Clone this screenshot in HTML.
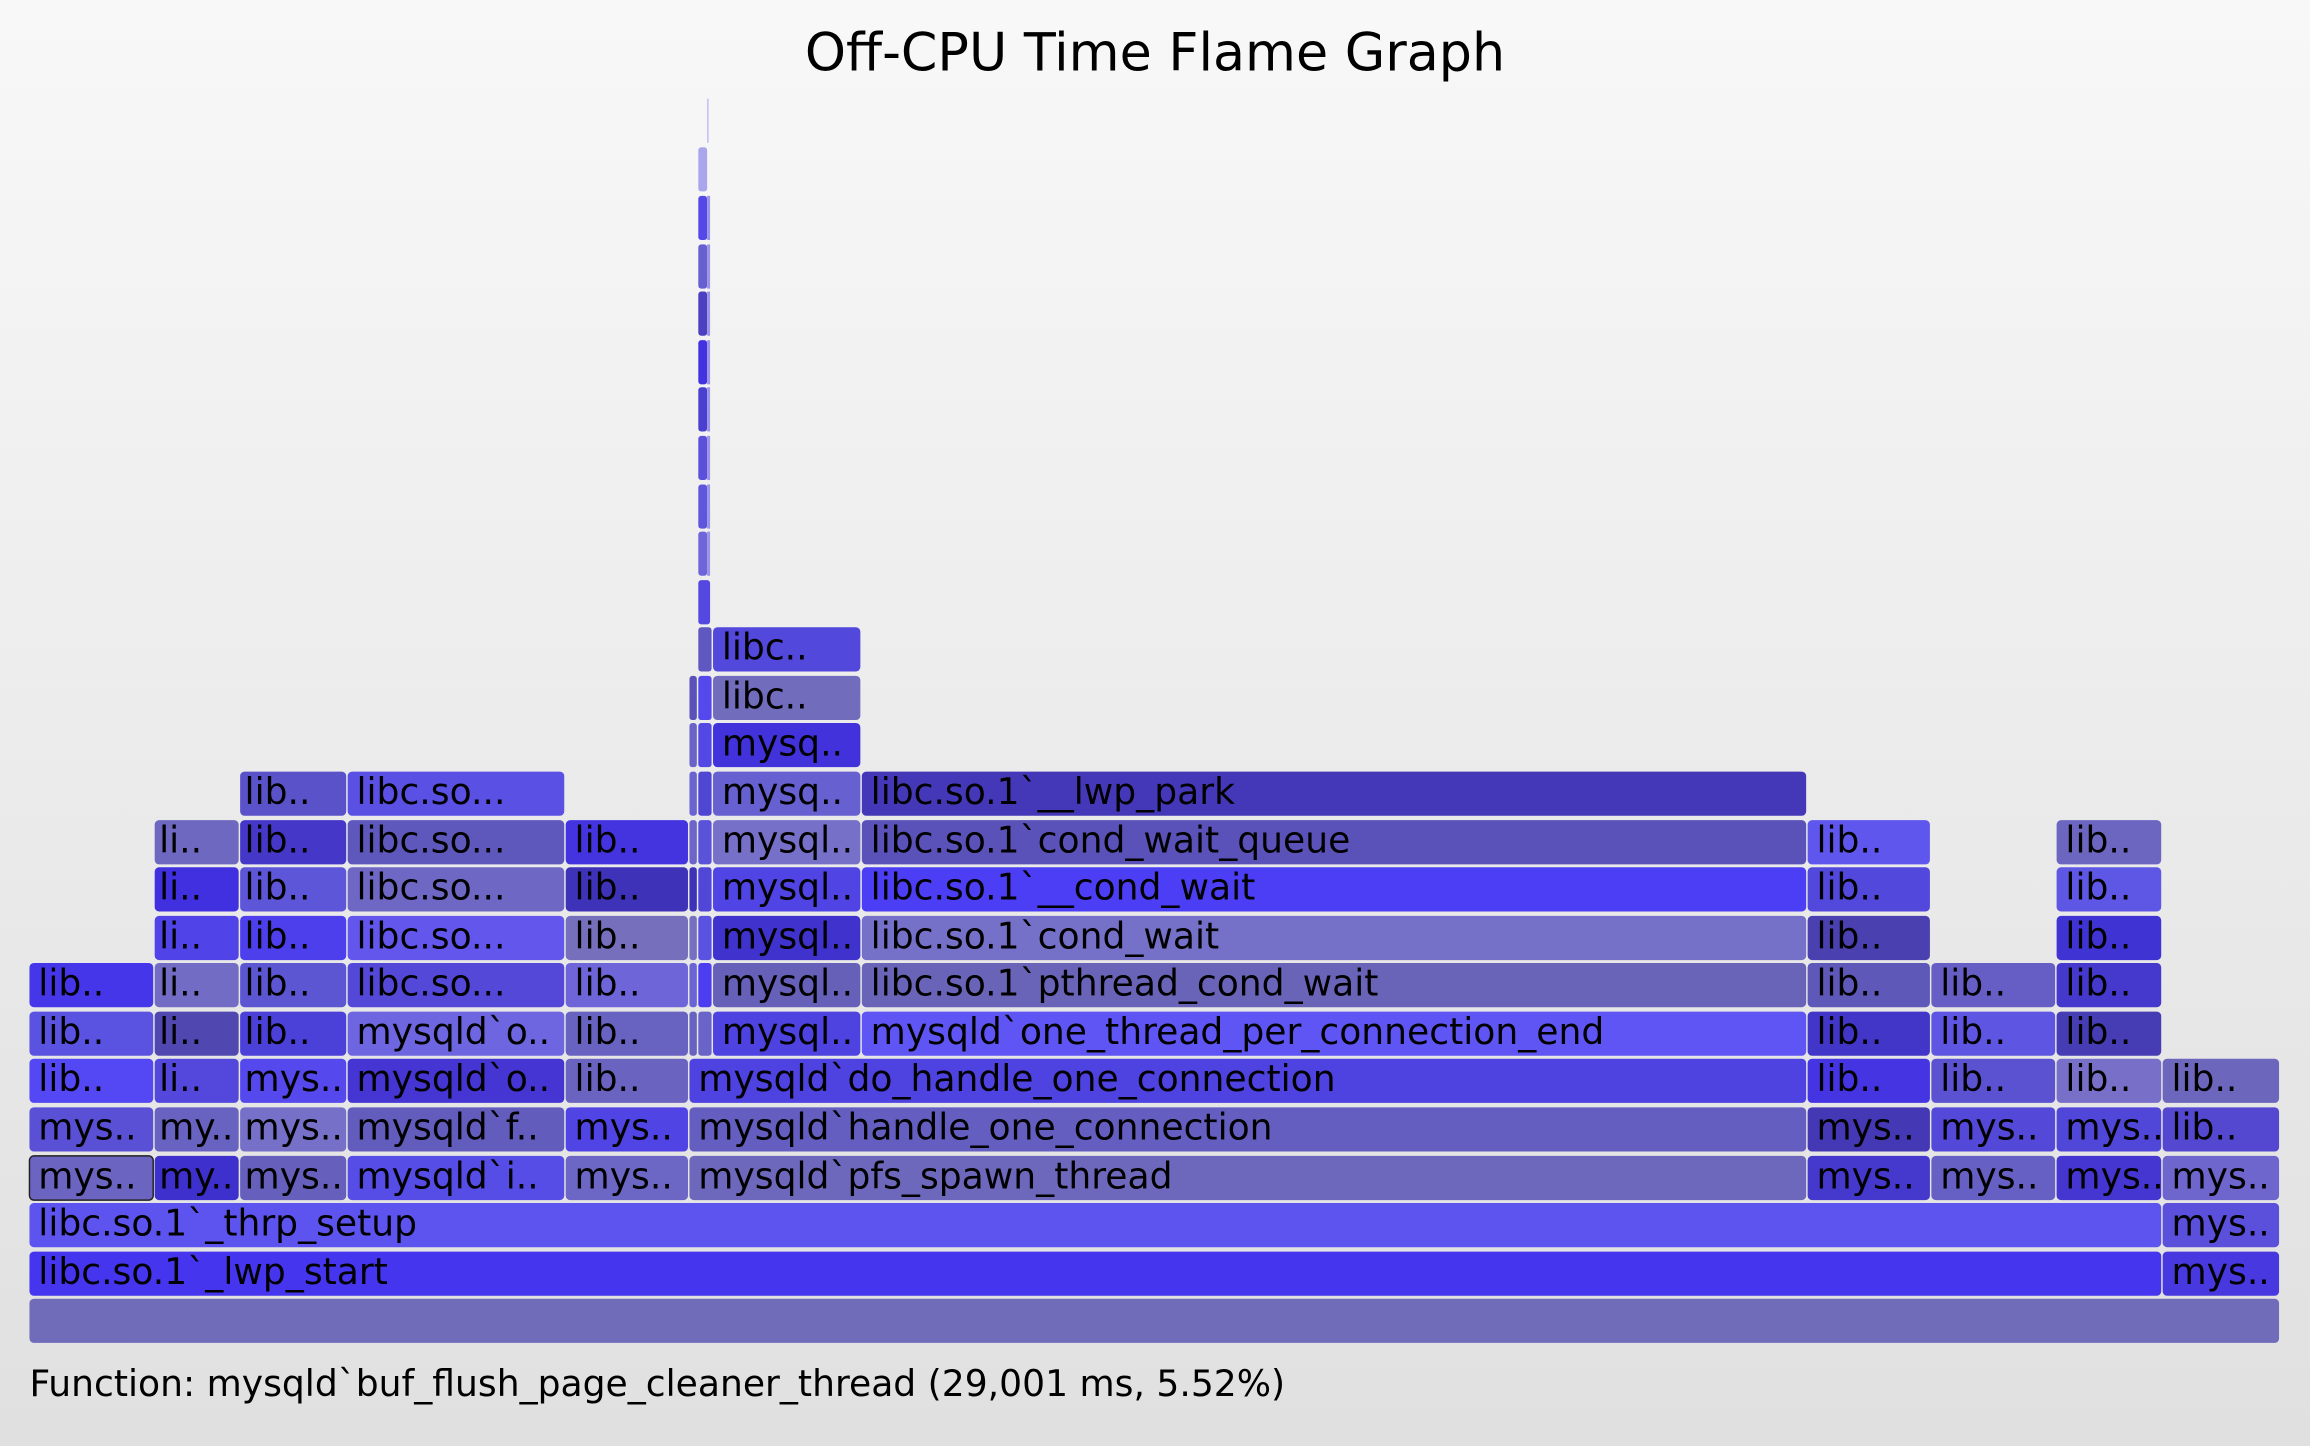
<!DOCTYPE html>
<html><head><meta charset="utf-8"><style>
html,body{margin:0;padding:0;width:2310px;height:1446px;overflow:hidden}
svg{display:block}
text{font-family:"DejaVu Sans","Liberation Sans",sans-serif;font-size:24.5px;fill:#000}
</style></head><body>
<svg width="2310" height="1446" viewBox="0 0 1568 982" preserveAspectRatio="none" xmlns="http://www.w3.org/2000/svg">
<defs><linearGradient id="bg" x1="0" y1="0" x2="0" y2="1"><stop offset="0" stop-color="#f8f8f8"/><stop offset="1" stop-color="#e0e0e0"/></linearGradient></defs>
<rect x="0" y="0" width="1568" height="982" fill="url(#bg)"/>
<text x="784" y="48" text-anchor="middle" style="font-size:35.5px">Off-CPU Time Flame Graph</text>
<g stroke="none">
<!-- row0 -->
<rect x="20" y="882" width="1527" height="30" rx="3" fill="#716cba"/>
<!-- row1 -->
<rect x="20" y="850" width="1447" height="30" rx="3" fill="#4535ee"/><text x="26" y="872">libc.so.1`_lwp_start</text>
<rect x="1468" y="850" width="79" height="30" rx="3" fill="#4838e0"/><text x="1474" y="872">mys..</text>
<!-- row2 -->
<rect x="20" y="817" width="1447" height="30" rx="3" fill="#5d54f0"/><text x="26" y="839">libc.so.1`_thrp_setup</text>
<rect x="1468" y="817" width="79" height="30" rx="3" fill="#5a50dc"/><text x="1474" y="839">mys..</text>
<!-- row3 -->
<rect x="20" y="785" width="84" height="30" rx="3" fill="#6b64c0" stroke="#222" stroke-width="1"/><text x="26" y="807">mys..</text>
<rect x="105" y="785" width="57" height="30" rx="3" fill="#3e30cc"/><text x="108" y="807">my..</text>
<rect x="163" y="785" width="72" height="30" rx="3" fill="#6660bc"/><text x="166" y="807">mys..</text>
<rect x="236" y="785" width="147" height="30" rx="3" fill="#564ce6"/><text x="242" y="807">mysqld`i..</text>
<rect x="384" y="785" width="83" height="30" rx="3" fill="#6c66c4"/><text x="390" y="807">mys..</text>
<rect x="468" y="785" width="758" height="30" rx="3" fill="#6e68bc"/><text x="474" y="807">mysqld`pfs_spawn_thread</text>
<rect x="1227" y="785" width="83" height="30" rx="3" fill="#4538cc"/><text x="1233" y="807">mys..</text>
<rect x="1311" y="785" width="84" height="30" rx="3" fill="#6660c4"/><text x="1317" y="807">mys..</text>
<rect x="1396" y="785" width="71" height="30" rx="3" fill="#4536d2"/><text x="1402" y="807">mys..</text>
<rect x="1468" y="785" width="79" height="30" rx="3" fill="#6e66cc"/><text x="1474" y="807">mys..</text>
<!-- row4 -->
<rect x="20" y="752" width="84" height="30" rx="3" fill="#5a50d6"/><text x="26" y="774">mys..</text>
<rect x="105" y="752" width="57" height="30" rx="3" fill="#6862c0"/><text x="108" y="774">my..</text>
<rect x="163" y="752" width="72" height="30" rx="3" fill="#7670c8"/><text x="166" y="774">mys..</text>
<rect x="236" y="752" width="147" height="30" rx="3" fill="#625cbc"/><text x="242" y="774">mysqld`f..</text>
<rect x="384" y="752" width="83" height="30" rx="3" fill="#5044e4"/><text x="390" y="774">mys..</text>
<rect x="468" y="752" width="758" height="30" rx="3" fill="#645ec0"/><text x="474" y="774">mysqld`handle_one_connection</text>
<rect x="1227" y="752" width="83" height="30" rx="3" fill="#4438b4"/><text x="1233" y="774">mys..</text>
<rect x="1311" y="752" width="84" height="30" rx="3" fill="#5348d8"/><text x="1317" y="774">mys..</text>
<rect x="1396" y="752" width="71" height="30" rx="3" fill="#5046d8"/><text x="1402" y="774">mys..</text>
<rect x="1468" y="752" width="79" height="30" rx="3" fill="#5448d0"/><text x="1474" y="774">lib..</text>
<!-- row5 -->
<rect x="20" y="719" width="84" height="30" rx="3" fill="#5448f4"/><text x="26" y="741">lib..</text>
<rect x="105" y="719" width="57" height="30" rx="3" fill="#5448dc"/><text x="108" y="741">li..</text>
<rect x="163" y="719" width="72" height="30" rx="3" fill="#5548ec"/><text x="166" y="741">mys..</text>
<rect x="236" y="719" width="147" height="30" rx="3" fill="#4536d4"/><text x="242" y="741">mysqld`o..</text>
<rect x="384" y="719" width="83" height="30" rx="3" fill="#6a64c0"/><text x="390" y="741">lib..</text>
<rect x="468" y="719" width="758" height="30" rx="3" fill="#4e42e0"/><text x="474" y="741">mysqld`do_handle_one_connection</text>
<rect x="1227" y="719" width="83" height="30" rx="3" fill="#4434e2"/><text x="1233" y="741">lib..</text>
<rect x="1311" y="719" width="84" height="30" rx="3" fill="#5a52d0"/><text x="1317" y="741">lib..</text>
<rect x="1396" y="719" width="71" height="30" rx="3" fill="#7870c8"/><text x="1402" y="741">lib..</text>
<rect x="1468" y="719" width="79" height="30" rx="3" fill="#6c66bc"/><text x="1474" y="741">lib..</text>
<!-- row6 -->
<rect x="20" y="687" width="84" height="30" rx="3" fill="#5a52e0"/><text x="26" y="709">lib..</text>
<rect x="105" y="687" width="57" height="30" rx="3" fill="#5048b0"/><text x="108" y="709">li..</text>
<rect x="163" y="687" width="72" height="30" rx="3" fill="#4b40d8"/><text x="166" y="709">lib..</text>
<rect x="236" y="687" width="147" height="30" rx="3" fill="#6d66e0"/><text x="242" y="709">mysqld`o..</text>
<rect x="384" y="687" width="83" height="30" rx="3" fill="#6862c0"/><text x="390" y="709">lib..</text>
<rect x="468" y="687" width="5" height="30" rx="2" fill="#6862c0"/>
<rect x="474" y="687" width="9" height="30" rx="2" fill="#6a64c8"/>
<rect x="484" y="687" width="100" height="30" rx="3" fill="#4e42e0"/><text x="490" y="709">mysql..</text>
<rect x="585" y="687" width="641" height="30" rx="3" fill="#5e55f4"/><text x="591" y="709">mysqld`one_thread_per_connection_end</text>
<rect x="1227" y="687" width="83" height="30" rx="3" fill="#4236c8"/><text x="1233" y="709">lib..</text>
<rect x="1311" y="687" width="84" height="30" rx="3" fill="#5e56e2"/><text x="1317" y="709">lib..</text>
<rect x="1396" y="687" width="71" height="30" rx="3" fill="#463cb4"/><text x="1402" y="709">lib..</text>
<!-- row7 -->
<rect x="20" y="654" width="84" height="30" rx="3" fill="#4536ea"/><text x="26" y="676">lib..</text>
<rect x="105" y="654" width="57" height="30" rx="3" fill="#726cc4"/><text x="108" y="676">li..</text>
<rect x="163" y="654" width="72" height="30" rx="3" fill="#5c56d2"/><text x="166" y="676">lib..</text>
<rect x="236" y="654" width="147" height="30" rx="3" fill="#5448d8"/><text x="242" y="676">libc.so...</text>
<rect x="384" y="654" width="83" height="30" rx="3" fill="#6e66d8"/><text x="390" y="676">lib..</text>
<rect x="468" y="654" width="5" height="30" rx="2" fill="#6a64d4"/>
<rect x="474" y="654" width="9" height="30" rx="2" fill="#4c3ef0"/>
<rect x="484" y="654" width="100" height="30" rx="3" fill="#6660b8"/><text x="490" y="676">mysql..</text>
<rect x="585" y="654" width="641" height="30" rx="3" fill="#6a64b8"/><text x="591" y="676">libc.so.1`pthread_cond_wait</text>
<rect x="1227" y="654" width="83" height="30" rx="3" fill="#5e58b8"/><text x="1233" y="676">lib..</text>
<rect x="1311" y="654" width="84" height="30" rx="3" fill="#665ec4"/><text x="1317" y="676">lib..</text>
<rect x="1396" y="654" width="71" height="30" rx="3" fill="#4538cc"/><text x="1402" y="676">lib..</text>
<!-- row8 -->
<rect x="105" y="622" width="57" height="30" rx="3" fill="#5044e8"/><text x="108" y="644">li..</text>
<rect x="163" y="622" width="72" height="30" rx="3" fill="#4d40ec"/><text x="166" y="644">lib..</text>
<rect x="236" y="622" width="147" height="30" rx="3" fill="#6256ec"/><text x="242" y="644">libc.so...</text>
<rect x="384" y="622" width="83" height="30" rx="3" fill="#7670bc"/><text x="390" y="644">lib..</text>
<rect x="468" y="622" width="5" height="30" rx="2" fill="#7570c0"/>
<rect x="474" y="622" width="9" height="30" rx="2" fill="#5a52e0"/>
<rect x="484" y="622" width="100" height="30" rx="3" fill="#4032cc"/><text x="490" y="644">mysql..</text>
<rect x="585" y="622" width="641" height="30" rx="3" fill="#7570c8"/><text x="591" y="644">libc.so.1`cond_wait</text>
<rect x="1227" y="622" width="83" height="30" rx="3" fill="#4a40b0"/><text x="1233" y="644">lib..</text>
<rect x="1396" y="622" width="71" height="30" rx="3" fill="#4033d4"/><text x="1402" y="644">lib..</text>
<!-- row9 -->
<rect x="105" y="589" width="57" height="30" rx="3" fill="#4030e0"/><text x="108" y="611">li..</text>
<rect x="163" y="589" width="72" height="30" rx="3" fill="#5e56d8"/><text x="166" y="611">lib..</text>
<rect x="236" y="589" width="147" height="30" rx="3" fill="#6e68c4"/><text x="242" y="611">libc.so...</text>
<rect x="384" y="589" width="83" height="30" rx="3" fill="#3e32b8"/><text x="390" y="611">lib..</text>
<rect x="468" y="589" width="5" height="30" rx="2" fill="#3e32b8"/>
<rect x="474" y="589" width="9" height="30" rx="2" fill="#5046d8"/>
<rect x="484" y="589" width="100" height="30" rx="3" fill="#5044e4"/><text x="490" y="611">mysql..</text>
<rect x="585" y="589" width="641" height="30" rx="3" fill="#4c3ef4"/><text x="591" y="611">libc.so.1`__cond_wait</text>
<rect x="1227" y="589" width="83" height="30" rx="3" fill="#5248dc"/><text x="1233" y="611">lib..</text>
<rect x="1396" y="589" width="71" height="30" rx="3" fill="#5e56e4"/><text x="1402" y="611">lib..</text>
<!-- row10 -->
<rect x="105" y="557" width="57" height="30" rx="3" fill="#6e68c0"/><text x="108" y="579">li..</text>
<rect x="163" y="557" width="72" height="30" rx="3" fill="#4538c8"/><text x="166" y="579">lib..</text>
<rect x="236" y="557" width="147" height="30" rx="3" fill="#5e58bc"/><text x="242" y="579">libc.so...</text>
<rect x="384" y="557" width="83" height="30" rx="3" fill="#4434e0"/><text x="390" y="579">lib..</text>
<rect x="468" y="557" width="5" height="30" rx="2" fill="#6c66c8"/>
<rect x="474" y="557" width="9" height="30" rx="2" fill="#5a52d8"/>
<rect x="484" y="557" width="100" height="30" rx="3" fill="#7770c8"/><text x="490" y="579">mysql..</text>
<rect x="585" y="557" width="641" height="30" rx="3" fill="#5a52b8"/><text x="591" y="579">libc.so.1`cond_wait_queue</text>
<rect x="1227" y="557" width="83" height="30" rx="3" fill="#5f56ee"/><text x="1233" y="579">lib..</text>
<rect x="1396" y="557" width="71" height="30" rx="3" fill="#6c66c0"/><text x="1402" y="579">lib..</text>
<!-- row11 -->
<rect x="163" y="524" width="72" height="30" rx="3" fill="#5a52c8"/><text x="166" y="546">lib..</text>
<rect x="236" y="524" width="147" height="30" rx="3" fill="#5a50e4"/><text x="242" y="546">libc.so...</text>
<rect x="468" y="524" width="5" height="30" rx="2" fill="#6a64d0"/>
<rect x="474" y="524" width="9" height="30" rx="2" fill="#5046d4"/>
<rect x="484" y="524" width="100" height="30" rx="3" fill="#6660d0"/><text x="490" y="546">mysq..</text>
<rect x="585" y="524" width="641" height="30" rx="3" fill="#4538b8"/><text x="591" y="546">libc.so.1`__lwp_park</text>
<!-- row12 -->
<rect x="468" y="491" width="5" height="30" rx="2" fill="#6a64c8"/>
<rect x="474" y="491" width="9" height="30" rx="2" fill="#5448e4"/>
<rect x="484" y="491" width="100" height="30" rx="3" fill="#4232dc"/><text x="490" y="513">mysq..</text>
<!-- row13 -->
<rect x="468" y="459" width="5" height="30" rx="2" fill="#5a52b8"/>
<rect x="474" y="459" width="9" height="30" rx="2" fill="#5548ec"/>
<rect x="484" y="459" width="100" height="30" rx="3" fill="#716cbc"/><text x="490" y="481">libc..</text>
<!-- row14 -->
<rect x="474" y="426" width="9" height="30" rx="2" fill="#5e58c0"/>
<rect x="484" y="426" width="100" height="30" rx="3" fill="#5248dc"/><text x="490" y="448">libc..</text>
<!-- spike -->
<rect x="474" y="394" width="8" height="30" rx="2" fill="#5448e0"/>
<rect x="474" y="361" width="6" height="30" rx="2" fill="#6e66d8"/><rect x="480" y="361" width="2" height="30" fill="#9a94e8"/>
<rect x="474" y="329" width="6" height="30" rx="2" fill="#5e56dc"/><rect x="480" y="329" width="2" height="30" fill="#9a94e8"/>
<rect x="474" y="296" width="6" height="30" rx="2" fill="#5a50dc"/><rect x="480" y="296" width="2" height="30" fill="#9a94e8"/>
<rect x="474" y="263" width="6" height="30" rx="2" fill="#4a40d0"/><rect x="480" y="263" width="2" height="30" fill="#9a94e8"/>
<rect x="474" y="231" width="6" height="30" rx="2" fill="#4232e0"/><rect x="480" y="231" width="2" height="30" fill="#9a94e8"/>
<rect x="474" y="198" width="6" height="30" rx="2" fill="#4a40c0"/><rect x="480" y="198" width="2" height="30" fill="#9a94e8"/>
<rect x="474" y="166" width="6" height="30" rx="2" fill="#6660d0"/><rect x="480" y="166" width="2" height="30" fill="#9a94e8"/>
<rect x="474" y="133" width="6" height="30" rx="2" fill="#5548e8"/><rect x="480" y="133" width="2" height="30" fill="#9a94e8"/>
<rect x="474" y="100" width="6" height="30" rx="2" fill="#aaa6ee"/>
<rect x="480" y="67" width="1" height="30" fill="#c0bcf4"/>
</g>
<text x="20" y="948">Function: mysqld`buf_flush_page_cleaner_thread (29,001 ms, 5.52%)</text>
</svg>
</body></html>
